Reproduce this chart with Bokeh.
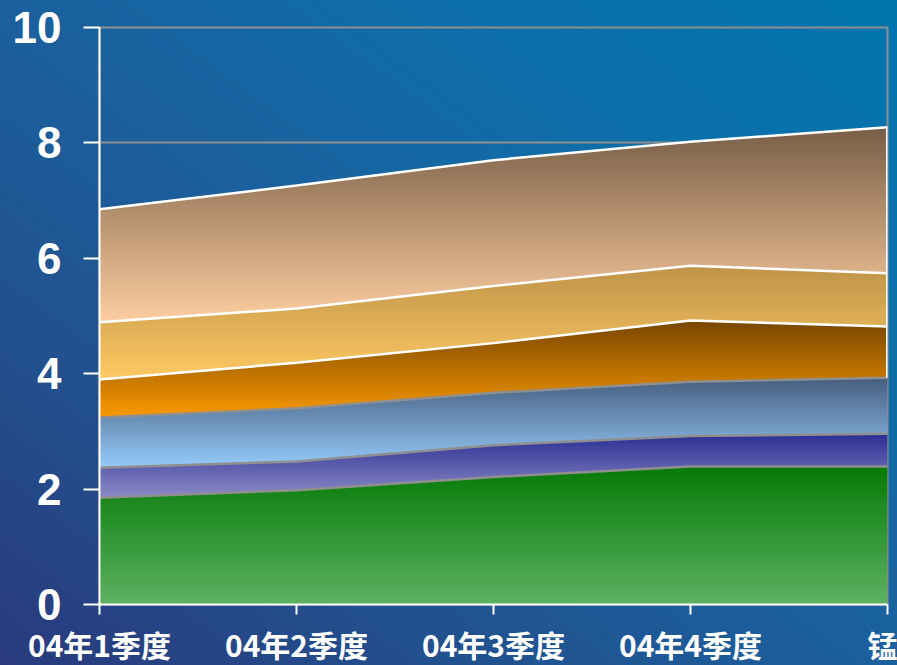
import numpy as np
from bokeh.plotting import figure
from bokeh.models import Range1d, FixedTicker, GlobalInlineStyleSheet
from bokeh.embed import file_html
from bokeh.resources import INLINE

# ---- data ----
categories = ["04年1季度", "04年2季度", "04年3季度", "04年4季度", "锰"]
s_green = [1.85, 1.98, 2.21, 2.39, 2.39]
s_purple = [0.52, 0.50, 0.55, 0.53, 0.57]
s_lightblue = [0.87, 0.92, 0.91, 0.94, 0.97]
s_orange = [0.66, 0.79, 0.86, 1.06, 0.89]
s_gold = [0.99, 0.94, 0.99, 0.95, 0.92]
s_peach = [1.96, 2.13, 2.18, 2.15, 2.53]
y_ticks = [0, 2, 4, 6, 8, 10]

series = [s_green, s_purple, s_lightblue, s_orange, s_gold, s_peach]
# (bottom colour, top colour, outline colour)
styles = [
    ("#5db262", "#067a07", "#8f8f8f"),
    ("#8c8cc6", "#2c2e94", "#8f8f8f"),
    ("#96cbfa", "#455e7e", "#8f8f8f"),
    ("#fb9a00", "#784600", "#ffffff"),
    ("#fec963", "#bf9449", "#ffffff"),
    ("#fecea1", "#785e46", "#ffffff"),
]

x = np.arange(len(categories), dtype=float)

p = figure(frame_width=788, frame_height=577, output_backend="svg",
           toolbar_location=None, x_range=Range1d(0, len(categories) - 1),
           y_range=Range1d(0, 10),
           min_border_left=99, min_border_right=10, min_border_top=27,
           min_border_bottom=61)
p.background_fill_alpha = 0
p.border_fill_alpha = 0
p.outline_line_color = "#8f8f8f"
p.outline_line_width = 2
p.xgrid.grid_line_color = None
p.ygrid.grid_line_color = "#8f8f8f"
p.ygrid.grid_line_width = 2
p.ygrid.ticker = FixedTicker(ticks=y_ticks)

def hex2rgb(h):
    h = h.lstrip("#")
    return np.array([int(h[i:i + 2], 16) for i in (0, 2, 4)], dtype=float)

def mix(c0, c1, t):
    c = hex2rgb(c0) * (1 - t) + hex2rgb(c1) * t
    return "#%02x%02x%02x" % tuple(int(round(v)) for v in c)

xs = np.linspace(0, len(categories) - 1, 801)
lower = np.zeros(len(categories))
bounds = []
K = 48
for vals, (cb, ct, cl) in zip(series, styles):
    upper = lower + np.array(vals)
    Ld = np.interp(xs, x, lower)
    Ud = np.interp(xs, x, upper)
    lo, hi = lower.min(), upper.max()
    step = (hi - lo) / K
    for k in range(K):
        a = lo + step * k
        b = lo + step * (k + 1) + step * 0.6
        y1 = np.clip(Ld, a, b)
        y2 = np.clip(Ud, a, b)
        p.varea(x=xs, y1=y1, y2=y2, fill_color=mix(cb, ct, (k + 0.5) / K))
    bounds.append((lower.copy(), upper.copy(), cl))
    lower = upper

for lo_, up_, cl in bounds:
    p.line(x, up_, line_color=cl, line_width=2.5)
    if cl == "#ffffff":
        p.segment(x0=[x[-1]], y0=[lo_[-1]], x1=[x[-1]], y1=[up_[-1]],
                  line_color=cl, line_width=3)

# axes
ya = p.yaxis[0]
ya.ticker = FixedTicker(ticks=y_ticks)
ya.axis_line_color = "white"
ya.axis_line_width = 2
ya.major_tick_line_color = "white"
ya.major_tick_line_width = 2
ya.major_tick_out = 16
ya.major_tick_in = 0
ya.minor_tick_line_color = None
ya.major_label_text_color = "white"
ya.major_label_text_font = "Liberation Sans"
ya.major_label_text_font_style = "bold"
ya.major_label_text_font_size = "44px"
ya.major_label_standoff = 22

xa = p.xaxis[0]
xa.ticker = FixedTicker(ticks=list(range(len(categories))))
xa.major_label_overrides = {i: c for i, c in enumerate(categories)}
xa.axis_line_color = "white"
xa.axis_line_width = 2
xa.major_tick_line_color = "white"
xa.major_tick_line_width = 2
xa.major_tick_out = 10
xa.major_tick_in = 0
xa.minor_tick_line_color = None
xa.major_label_text_color = "white"
xa.major_label_text_font = "Noto Sans CJK SC"
xa.major_label_text_font_style = "bold"
xa.major_label_text_font_size = "30px"
xa.major_label_standoff = 7

p.stylesheets = [GlobalInlineStyleSheet(css=(
    "html, body { margin: 0 !important; padding: 0; overflow: hidden; "
    "background: linear-gradient(to top right, #293a7c 0%, #22508e 25%, "
    "#1b609e 50%, #0d6faa 75%, #0075ae 100%) fixed; }"))]

open("out.html", "w").write(file_html(p, INLINE))
